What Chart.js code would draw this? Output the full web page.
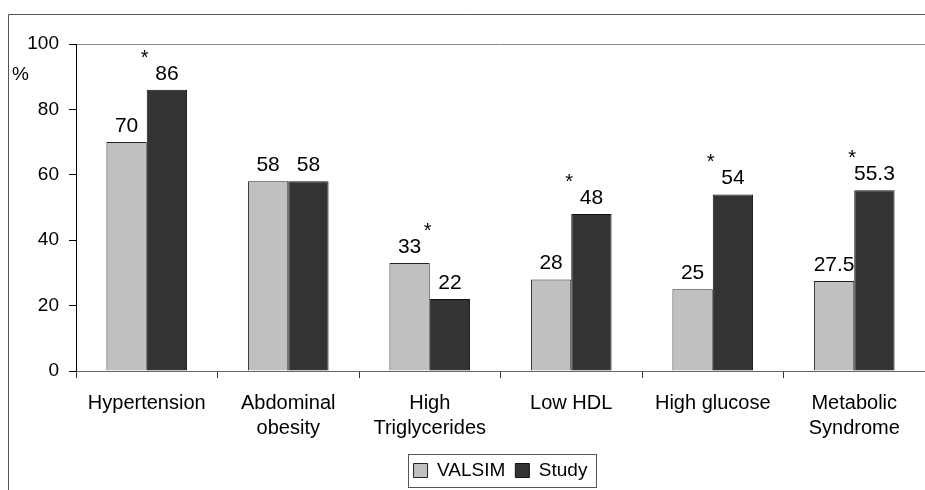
<!DOCTYPE html>
<html>
<head>
<meta charset="utf-8">
<script src="https://cdn.jsdelivr.net/npm/chart.js@4.4.1/dist/chart.umd.min.js"></script>
<style>
  body { margin: 0; background: #fff; overflow: hidden; }
  #myChart { display: block; }
</style>
</head>
<body>
<canvas id="myChart" width="925" height="490"></canvas>
<script>
const categories = [
    ["Hypertension"], ["Abdominal", "obesity"], ["High", "Triglycerides"],
    ["Low HDL"], ["High glucose"], ["Metabolic", "Syndrome"]
];
const valsim = [70, 58, 33, 28, 25, 27.5];
const study = [86, 58, 22, 48, 54, 55.3];
// significant difference marks (*)
const stars = [true, false, true, true, true, true];
const yTicks = [0, 20, 40, 60, 80, 100];

const FONT = "'Liberation Sans', Arial, sans-serif";

const labelPlugin = {
    id: 'labels',
    beforeDraw(chart) {
        const c = chart.ctx, a = chart.chartArea;
        c.save();
        c.lineWidth = 1;
        // outer frame (left + top only, the rest is cut off)
        c.strokeStyle = '#555';
        c.beginPath();
        c.moveTo(8.5, chart.height);
        c.lineTo(8.5, 14.5);
        c.lineTo(chart.width, 14.5);
        c.stroke();
        // plot area top edge
        c.strokeStyle = '#888';
        c.beginPath();
        c.moveTo(a.left, a.top + 0.5);
        c.lineTo(chart.width, a.top + 0.5);
        c.stroke();
        c.restore();
    },
    afterDraw(chart) {
        const c = chart.ctx;
        const m0 = chart.getDatasetMeta(0).data;
        const m1 = chart.getDatasetMeta(1).data;
        c.save();
        c.fillStyle = '#000';
        c.textAlign = 'center';
        c.textBaseline = 'middle';
        c.font = '21px ' + FONT;
        [m0, m1].forEach((bars, di) => {
            bars.forEach((b, i) => {
                const v = chart.data.datasets[di].data[i];
                c.fillText(String(v), b.x, b.y - 16);
            });
        });
        // asterisks
        c.font = '20px ' + FONT;
        c.textBaseline = 'alphabetic';
        stars.forEach((s, i) => {
            if (!s) return;
            const x = (m0[i].x + m1[i].x) / 2 - 2;
            const top = Math.min(m0[i].y, m1[i].y);
            c.fillText('*', x, top - 37 + 11);
        });
        // % label
        c.textAlign = 'left';
        c.textBaseline = 'middle';
        c.font = '19px ' + FONT;
        c.fillText('%', 12, 75);
        // legend frame
        const hb = chart.legend.legendHitBoxes;
        if (hb && hb.length) {
            const l = hb[0].left - 6, r = hb[hb.length - 1].left + hb[hb.length - 1].width + 8;
            const t = hb[0].top - 7, h = hb[0].height + 14;
            c.strokeStyle = '#555';
            c.strokeRect(Math.round(l) + 0.5, Math.round(t) + 0.5, Math.round(r - l), Math.round(h));
        }
        c.restore();
    }
};

const data = {
    labels: categories,
    datasets: [{
        label: "VALSIM",
        data: valsim,
        backgroundColor: "#c0c0c0",
        borderColor: "#222",
        borderWidth: 1
    }, {
        label: "Study",
        data: study,
        backgroundColor: "#333333",
        borderColor: "#111",
        borderWidth: 1
    }]
};

const config = {
    type: 'bar',
    data: data,
    options: {
        responsive: false,
        animation: false,
        devicePixelRatio: 1,
        categoryPercentage: 0.57,
        barPercentage: 1,
        layout: { padding: { top: 44, left: 0, right: 0, bottom: 0 } },
        plugins: {
            tooltip: { enabled: false },
            legend: {
                position: 'bottom',
                fullSize: false,
                labels: {
                    font: { family: FONT, size: 19 },
                    color: '#000',
                    boxWidth: 14,
                    boxHeight: 14,
                    padding: 10
                }
            }
        },
        scales: {
            x: {
                grid: { drawOnChartArea: false, tickLength: 7, color: '#333' },
                border: { color: '#666' },
                ticks: {
                    color: '#000',
                    font: { family: FONT, size: 20, lineHeight: 1.25 },
                    padding: 13,
                    maxRotation: 0,
                    autoSkip: false
                },
                afterFit(s) { s.height = 80; }
            },
            y: {
                min: 0,
                max: 100,
                grid: { drawOnChartArea: false, tickLength: 7, color: '#000' },
                border: { color: '#000' },
                afterBuildTicks(s) { s.ticks = yTicks.map(v => ({ value: v })); },
                ticks: {
                    color: '#000',
                    font: { family: FONT, size: 19 },
                    padding: 10
                },
                afterFit(s) { s.width = 76; }
            }
        }
    },
    plugins: [labelPlugin]
};

let myChart = new Chart(document.getElementById('myChart'), config);
</script>
</body>
</html>
